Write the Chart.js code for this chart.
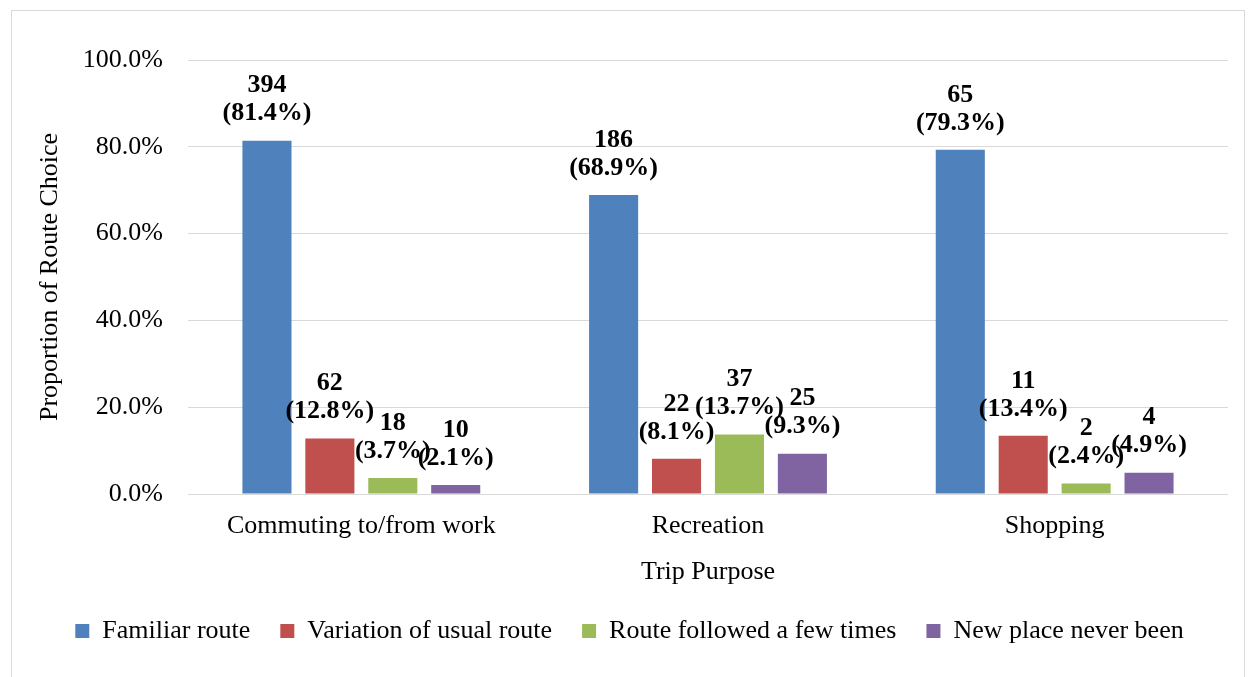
<!DOCTYPE html>
<html>
<head>
<meta charset="utf-8">
<script src="https://cdn.jsdelivr.net/npm/chart.js@4/dist/chart.umd.min.js"></script>
<style>
  html, body { margin: 0; padding: 0; background: #fff; overflow: hidden; }
  #wrap { position: relative; width: 1248px; height: 677px; }
  #frame { position: absolute; left: 11px; top: 10px; width: 1234px; height: 700px; border: 1px solid #d9d9d9; box-sizing: border-box; }
  canvas { position: absolute; left: 0; top: 0; }
</style>
</head>
<body>
<div id="wrap">
  <div id="frame"></div>
  <canvas id="chart" width="1248" height="677"></canvas>
</div>
<script>
let categories = ['Commuting to/from work', 'Recreation', 'Shopping'];
let seriesNames = ['Familiar route', 'Variation of usual route', 'Route followed a few times', 'New place never been'];

let familiarPct = [81.4, 68.9, 79.3];
let variationPct = [12.8, 8.1, 13.4];
let fewTimesPct = [3.7, 13.7, 2.4];
let newPlacePct = [2.1, 9.3, 4.9];

let familiarCount = [394, 186, 65];
let variationCount = [62, 22, 11];
let fewTimesCount = [18, 37, 2];
let newPlaceCount = [10, 25, 4];

let yTicks = [0, 20, 40, 60, 80, 100];

let colors = ['#4f81bd', '#c0504d', '#9bbb59', '#8064a2'];
let serif = '"Liberation Serif", "Times New Roman", serif';

let pctList = [familiarPct, variationPct, fewTimesPct, newPlacePct];
let countList = [familiarCount, variationCount, fewTimesCount, newPlaceCount];

// two-line labels above each bar: count, then (percent)
const barLabels = {
    id: 'barLabels',
    afterDatasetsDraw(chart) {
        let ctx = chart.ctx;
        ctx.save();
        ctx.font = 'bold 26px ' + serif;
        ctx.fillStyle = '#000';
        ctx.textAlign = 'center';
        ctx.textBaseline = 'middle';
        chart.data.datasets.forEach((ds, i) => {
            chart.getDatasetMeta(i).data.forEach((bar, j) => {
                let y2 = bar.y - 27;
                ctx.fillText(countList[i][j], bar.x, y2 - 28);
                ctx.fillText('(' + pctList[i][j].toFixed(1) + '%)', bar.x, y2);
            });
        });
        ctx.restore();
    }
};

let datasets = seriesNames.map((name, i) => ({
    label: name,
    data: pctList[i],
    backgroundColor: colors[i],
    borderWidth: 0,
    categoryPercentage: 0.726,
    barPercentage: 0.78
}));

new Chart(document.getElementById('chart'), {
    type: 'bar',
    data: { labels: categories, datasets: datasets },
    plugins: [barLabels],
    options: {
        responsive: false,
        animation: false,
        layout: { padding: { left: 31, right: 20, top: 60, bottom: 23 } },
        plugins: {
            tooltip: { enabled: false },
            legend: {
                position: 'bottom',
                labels: {
                    color: '#000',
                    font: { family: serif, size: 26 },
                    boxWidth: 14,
                    boxHeight: 14,
                    padding: 30
                }
            }
        },
        scales: {
            x: {
                grid: { display: false },
                border: { display: false },
                ticks: { color: '#000', font: { family: serif, size: 26 }, padding: 9, maxRotation: 0 },
                title: { display: true, text: 'Trip Purpose', color: '#000', font: { family: serif, size: 26 }, padding: { top: 0, bottom: 0 } },
                afterFit(scale) { scale.height = 94; }
            },
            y: {
                min: 0,
                max: 100,
                afterBuildTicks(scale) { scale.ticks = yTicks.map(v => ({ value: v })); },
                grid: { color: '#d9d9d9', lineWidth: 1, drawTicks: false },
                border: { display: false },
                ticks: {
                    color: '#000',
                    font: { family: serif, size: 26 },
                    padding: 25,
                    callback: v => v.toFixed(1) + '%'
                },
                title: { display: true, text: 'Proportion of Route Choice', color: '#000', font: { family: serif, size: 26 }, padding: 4 },
                afterFit(scale) { scale.width = 157; }
            }
        }
    }
});
</script>
</body>
</html>
